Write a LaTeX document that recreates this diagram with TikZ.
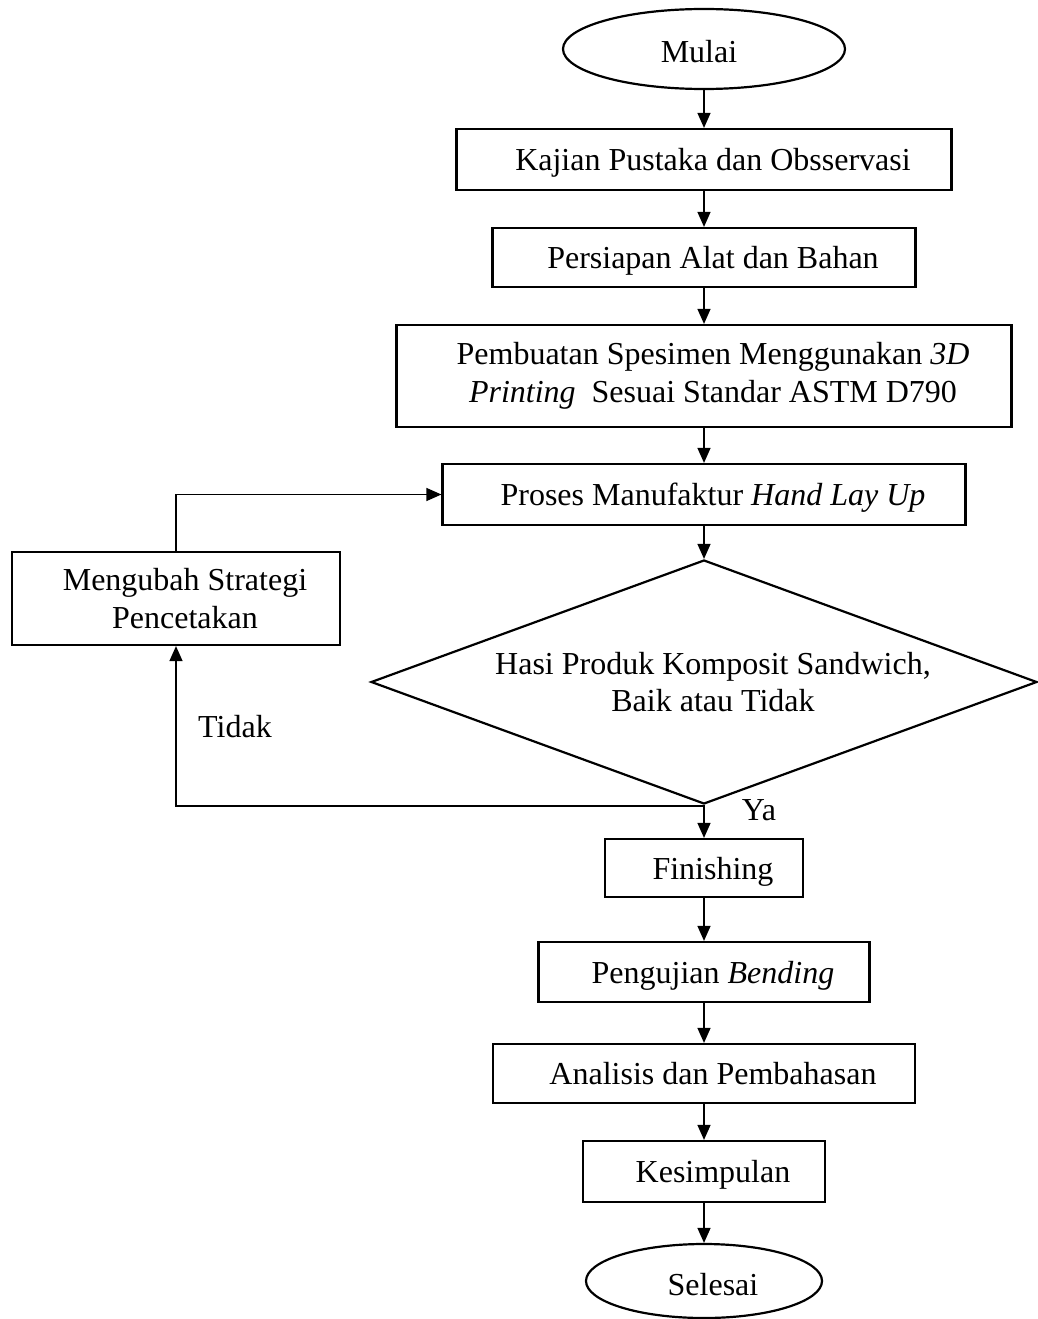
\documentclass[tikz,border=0pt]{standalone}
\usepackage{fontspec}
\setmainfont{Liberation Serif}
\usetikzlibrary{shapes.geometric,arrows.meta}
\newcommand{\flowfont}{\fontsize{32}{37.5}\selectfont}
\begin{document}
\begin{tikzpicture}[x=1pt,y=-1pt,
  box/.style={draw, line width=2.2pt, inner sep=0pt, font=\flowfont, align=center},
  oneline/.style={text depth=0pt},
  term/.style={ellipse, draw, line width=2.2pt, inner sep=0pt, font=\flowfont, text height=28pt, text depth=0pt},
  decision/.style={diamond, draw, line width=2.2pt, inner sep=0pt, aspect=2.73, font=\flowfont, align=center},
  lbl/.style={font=\flowfont, inner sep=0pt},
  conn/.style={line width=1.3pt, -{Triangle[length=15pt,width=13pt]}}]
\useasboundingbox (0,0) rectangle (1038,1319);

\node[term, minimum width=282pt, minimum height=80pt] (mulai) at (704,49) {Mulai\hspace*{10pt}};
\node[box, oneline, minimum width=495pt, minimum height=61pt] (kajian) at (704,159.5) {\hspace*{18pt}Kajian Pustaka dan Obsservasi};
\node[box, oneline, minimum width=423pt, minimum height=59pt] (persiapan) at (704,257.5) {\hspace*{18pt}Persiapan Alat dan Bahan};
\node[box, minimum width=615pt, minimum height=102pt] (pembuatan) at (704,376) {\hspace*{18pt}Pembuatan Spesimen Menggunakan \textit{3D}\\ \hspace*{18pt}\textit{Printing}\ \ Sesuai Standar ASTM D790};
\node[box, oneline, minimum width=523pt, minimum height=61pt] (proses) at (704,494.5) {\hspace*{18pt}Proses Manufaktur \textit{Hand Lay Up}};
\node[decision, minimum width=666pt, minimum height=244pt] (dia) at (704,682) {\hspace*{18pt}Hasi Produk Komposit Sandwich,\\ \hspace*{18pt}Baik atau Tidak};
\node[box, minimum width=328pt, minimum height=93pt] (meng) at (176,598.5) {\hspace*{18pt}Mengubah Strategi\\ \hspace*{18pt}Pencetakan};
\node[box, oneline, minimum width=198pt, minimum height=58pt] (fin) at (704,868) {\hspace*{18pt}Finishing};
\node[box, oneline, minimum width=331pt, minimum height=60pt] (peng) at (704,972) {\hspace*{18pt}Pengujian \textit{Bending}};
\node[box, oneline, minimum width=422pt, minimum height=59pt] (anal) at (704,1073.5) {\hspace*{18pt}Analisis dan Pembahasan};
\node[box, oneline, minimum width=242pt, minimum height=61pt] (kes) at (704,1171.5) {\hspace*{18pt}Kesimpulan};
\node[term, minimum width=236pt, minimum height=74pt] (sel) at (704,1281) {\hspace*{18pt}Selesai};

\node[lbl] (tidak) at (235,727) {Tidak};
\node[lbl] (ya) at (759,810) {Ya};

\draw[conn] (mulai.south) -- (kajian.north);
\draw[conn] (kajian.south) -- (persiapan.north);
\draw[conn] (persiapan.south) -- (pembuatan.north);
\draw[conn] (pembuatan.south) -- (proses.north);
\draw[conn] (proses.south) -- (dia.north);
\draw[conn] (dia.south) -- (fin.north);
\draw[conn] (fin.south) -- (peng.north);
\draw[conn] (peng.south) -- (anal.north);
\draw[conn] (anal.south) -- (kes.north);
\draw[conn] (kes.south) -- (sel.north);

\coordinate (split) at (704,806);
\draw[conn] (split) -| (meng.south);
\draw[conn] (meng.north) |- (proses.west);
\end{tikzpicture}
\end{document}
